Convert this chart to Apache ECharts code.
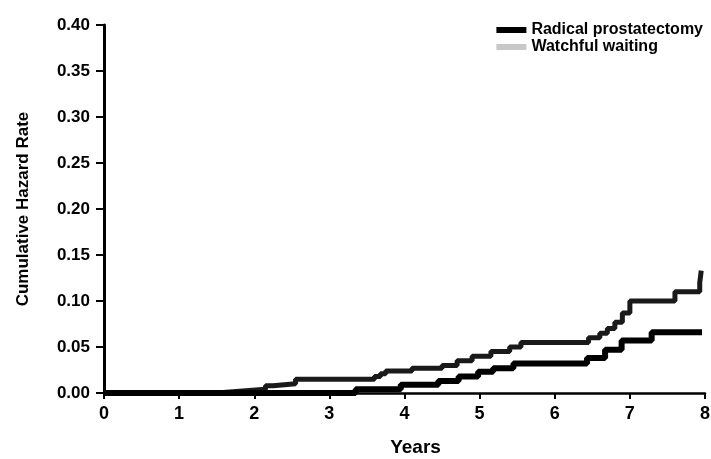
<!DOCTYPE html>
<html>
<head>
<meta charset="utf-8">
<script src="https://cdn.jsdelivr.net/npm/echarts@6/dist/echarts.min.js"></script>
<style>
  html, body { margin: 0; padding: 0; background: #fff; }
  #chart { width: 711px; height: 459px; }
</style>
</head>
<body>
<div id="chart"></div>
<script>
// step curves: years -> cumulative hazard
const seriesNames = ['Radical prostatectomy', 'Watchful waiting'];

const rpYears  = [0, 3.35, 3.95, 4.45, 4.72, 4.98, 5.18, 5.45, 6.43, 6.67, 6.89, 7.29, 7.96];
const rpHazard = [0, 0.004, 0.009, 0.013, 0.018, 0.023, 0.027, 0.032, 0.038, 0.047, 0.057, 0.066, 0.066];

const wwYears  = [0, 1.5, 1.8, 2.15, 2.25, 2.55, 3.6, 3.68, 3.75, 4.1, 4.5, 4.7, 4.9, 5.15, 5.4, 5.55, 6.45, 6.6, 6.7, 6.8, 6.9, 7.0, 7.6, 7.93, 7.95];
const wwHazard = [0, 0.002, 0.004, 0.008, 0.010, 0.015, 0.018, 0.021, 0.024, 0.027, 0.030, 0.035, 0.040, 0.045, 0.050, 0.055, 0.060, 0.065, 0.070, 0.077, 0.087, 0.100, 0.110, 0.120, 0.133];

const pairs = (xs, ys) => xs.map((x, i) => [x, ys[i]]);

const FONT = '"Liberation Sans", Arial, sans-serif';

const chart = echarts.init(document.getElementById('chart'), null, { renderer: 'canvas' });
chart.setOption({
  backgroundColor: '#fff',
  animation: false,
  textStyle: { fontFamily: FONT, color: '#000' },
  grid: { left: 104, right: 6, top: 25, bottom: 66, outerBoundsMode: 'none', containLabel: false },
  legend: {
    orient: 'vertical',
    right: 3,
    top: 17,
    itemWidth: 30,
    itemHeight: 6,
    itemGap: 1,
    icon: 'rect',
    textStyle: { fontFamily: FONT, fontSize: 16, fontWeight: 'bold', color: '#000', lineHeight: 15 },
    data: [
      { name: seriesNames[0], itemStyle: { color: '#000' } },
      { name: seriesNames[1], itemStyle: { color: '#c8c8c8' } }
    ]
  },
  xAxis: {
    type: 'value',
    min: 0, max: 8, interval: 1,
    name: 'Years',
    nameLocation: 'middle',
    nameGap: 45,
    nameTextStyle: { fontFamily: FONT, fontSize: 19, fontWeight: 'bold', padding: [0, 0, 0, 22] },
    axisLine: { lineStyle: { color: '#000', width: 2.5 } },
    axisTick: { show: true, length: 6, lineStyle: { color: '#000', width: 2 } },
    axisLabel: { fontFamily: FONT, fontSize: 18, fontWeight: 'bold', color: '#000', margin: 12 },
    splitLine: { show: false }
  },
  yAxis: {
    type: 'value',
    min: 0, max: 0.4, interval: 0.05,
    name: 'Cumulative Hazard Rate',
    nameLocation: 'middle',
    nameGap: 72,
    nameTextStyle: { fontFamily: FONT, fontSize: 17, fontWeight: 'bold' },
    axisLine: { show: true, lineStyle: { color: '#000', width: 3 } },
    axisTick: { show: true, length: 8, lineStyle: { color: '#000', width: 2 } },
    axisLabel: { fontFamily: FONT, fontSize: 17, fontWeight: 'bold', color: '#000', margin: 14,
                 formatter: v => v.toFixed(2) },
    splitLine: { show: false }
  },
  series: [
    {
      name: seriesNames[1],
      type: 'line',
      step: 'end',
      showSymbol: false,
      lineStyle: { color: '#1a1a1a', width: 5 },
      itemStyle: { color: '#1a1a1a' },
      data: pairs(wwYears, wwHazard)
    },
    {
      name: seriesNames[0],
      type: 'line',
      step: 'end',
      showSymbol: false,
      lineStyle: { color: '#000', width: 6 },
      itemStyle: { color: '#000' },
      data: pairs(rpYears, rpHazard)
    }
  ]
});
</script>
</body>
</html>
